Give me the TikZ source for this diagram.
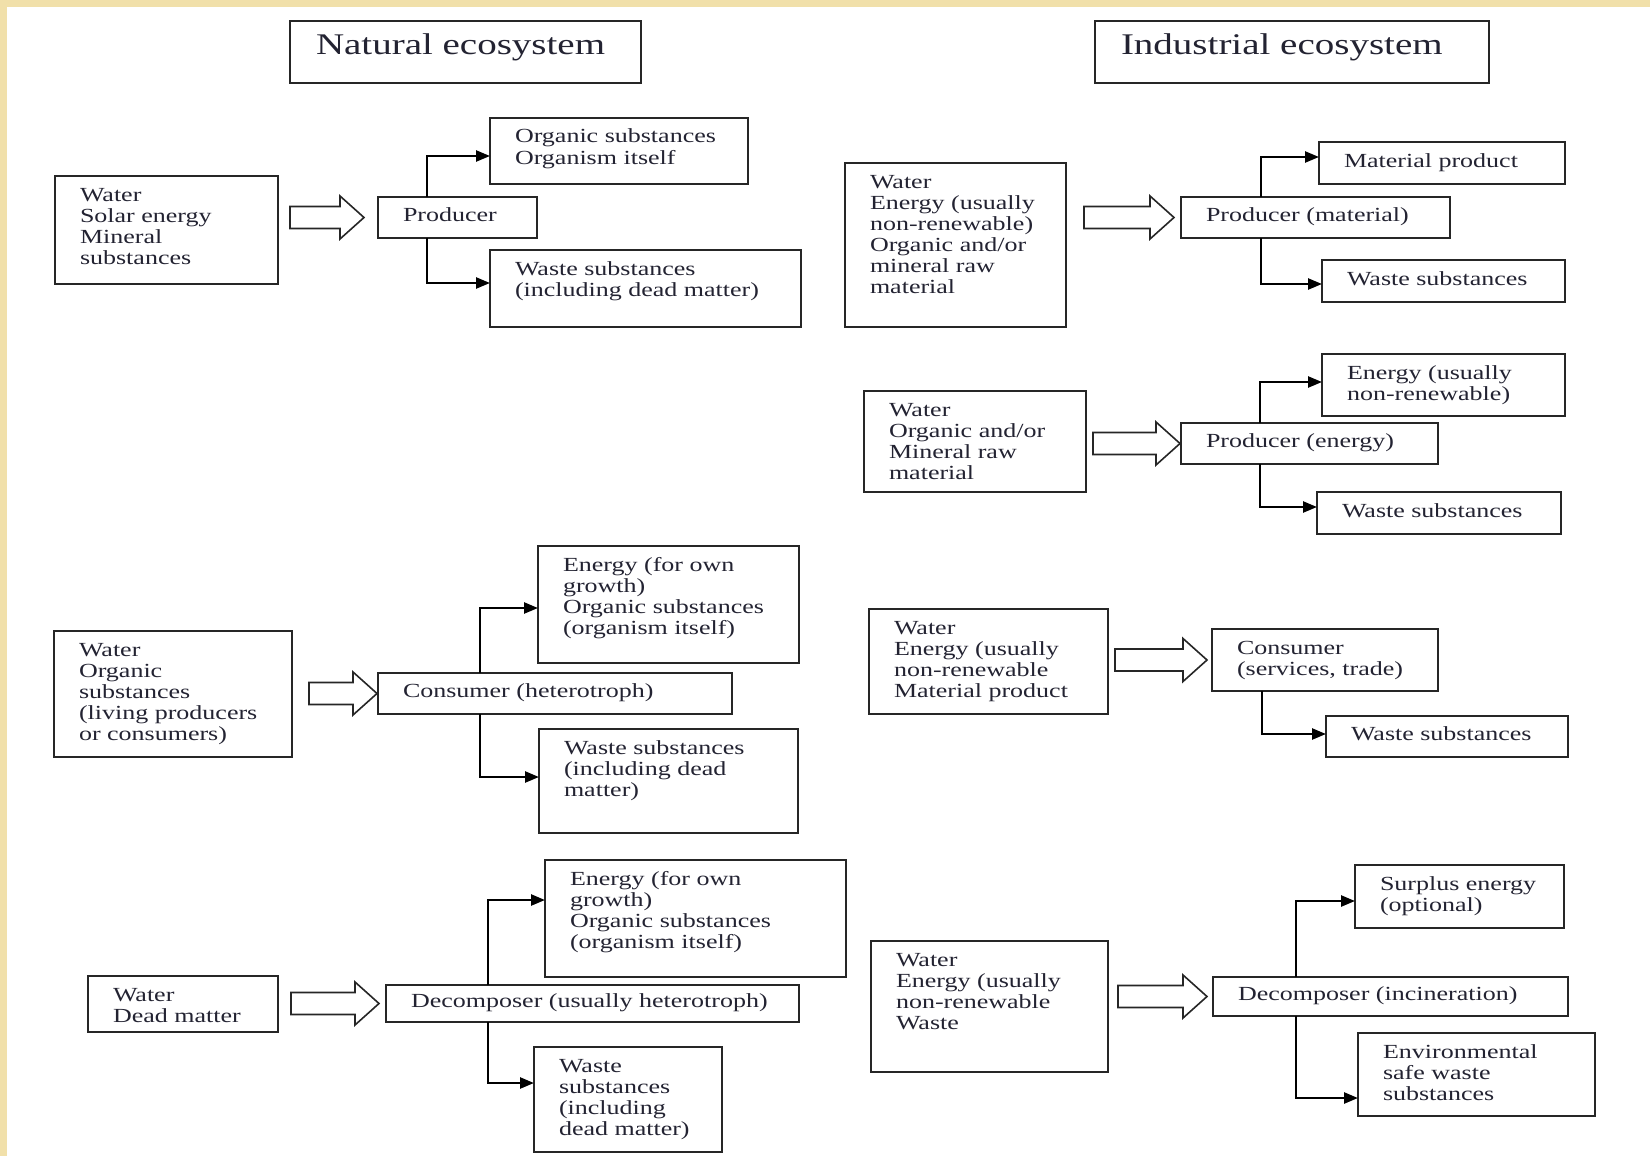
\documentclass[tikz,border=0pt]{standalone}
\usepackage{fontspec}
\setmainfont{Liberation Serif}[FakeStretch=1.3]
\usetikzlibrary{arrows.meta,calc}
\definecolor{txt}{RGB}{35,35,50}
\definecolor{edgecol}{RGB}{241,224,170}
\newcommand\tbt[3]{\begin{minipage}[c][#2pt][t]{#1pt}\vspace*{10.3pt}\raggedright\setlength{\leftskip}{25pt}\strut#3\strut\end{minipage}}
\newcommand\tbc[3]{\begin{minipage}[c][#2pt][c]{#1pt}\raggedright\setlength{\leftskip}{25pt}\strut#3\strut\end{minipage}}
\newcommand\tbttl[3]{\begin{minipage}[c][#2pt][t]{#1pt}\vspace*{11.6pt}\raggedright\setlength{\leftskip}{26pt}\strut#3\strut\end{minipage}}
\newcommand\barr[4]{%
 \draw[blk] let \p1=(#1.east), \p2=(#2.west) in
   (\x1+#3pt,\y2+11pt) -- (\x2-#4pt-24pt,\y2+11pt) -- (\x2-#4pt-24pt,\y2+21.5pt)
   -- (\x2-#4pt,\y2) -- (\x2-#4pt-24pt,\y2-21.5pt) -- (\x2-#4pt-24pt,\y2-11pt)
   -- (\x1+#3pt,\y2-11pt) -- cycle;}
\begin{document}
\begin{tikzpicture}[x=1pt,y=-1pt,
  bx/.style={draw=black!85, line width=1.8pt, inner sep=0pt, outer sep=0pt, anchor=north west, text=txt, font=\fontsize{20}{21}\selectfont},
  ttl/.style={bx, font=\fontsize{30}{32}\selectfont},
  conn/.style={draw=black, line width=2.5pt, -{Triangle[length=14pt,width=11pt]}},
  blk/.style={draw=black!85, line width=1.6pt, fill=white, line join=miter}]
\fill[white] (0,0) rectangle (1650,1156);
\fill[edgecol] (0,0) rectangle (1650,7);
\fill[edgecol] (0,0) rectangle (7,1156);
\useasboundingbox (0,0) rectangle (1650,1156);

% titles
\node[ttl] (tN) at (290,21) {\tbttl{351}{62}{Natural ecosystem}};
\node[ttl] (tI) at (1095,21) {\tbttl{394}{62}{Industrial ecosystem}};

% natural: producer
\node[bx] (inN1) at (55,176) {\tbt{223}{108}{Water\\Solar energy\\Mineral\\substances}};
\node[bx] (prodN) at (378,197) {\tbc{159}{41}{Producer}};
\node[bx] (orgN) at (490,118) {\tbt{258}{66}{Organic substances\\Organism itself}};
\node[bx] (wasteN) at (490,250) {\tbt{311}{77}{Waste substances\\(including dead matter)}};

% natural: consumer
\node[bx] (inC) at (54,631) {\tbt{238}{126}{Water\\Organic\\substances\\(living producers\\or consumers)}};
\node[bx] (consN) at (378,673) {\tbc{354}{41}{Consumer (heterotroph)}};
\node[bx] (enC) at (538,546) {\tbt{261}{117}{Energy (for own\\growth)\\Organic substances\\(organism itself)}};
\node[bx] (wasteC) at (539,729) {\tbt{259}{104}{Waste substances\\(including dead\\matter)}};

% natural: decomposer
\node[bx] (inD) at (88,976) {\tbt{190}{56}{Water\\Dead matter}};
\node[bx] (decN) at (386,985) {\tbc{413}{37}{Decomposer (usually heterotroph)}};
\node[bx] (enD) at (545,860) {\tbt{301}{117}{Energy (for own\\growth)\\Organic substances\\(organism itself)}};
\node[bx] (wasteD) at (534,1047) {\tbt{188}{105}{Waste\\substances\\(including\\dead matter)}};

% industrial: producer (material)
\node[bx] (inIA) at (845,163) {\tbt{221}{164}{Water\\Energy (usually\\non-renewable)\\Organic and/or\\mineral raw\\material}};
\node[bx] (prodM) at (1181,197) {\tbc{269}{41}{Producer (material)}};
\node[bx] (matP) at (1319,142) {\tbc{246}{42}{Material product}};
\node[bx] (wasteI1) at (1322,260) {\tbc{243}{42}{Waste substances}};

% industrial: producer (energy)
\node[bx] (inIB) at (864,391) {\tbt{222}{101}{Water\\Organic and/or\\Mineral raw\\material}};
\node[bx] (prodE) at (1181,423) {\tbc{257}{41}{Producer (energy)}};
\node[bx] (enI) at (1322,354) {\tbt{243}{62}{Energy (usually\\non-renewable)}};
\node[bx] (wasteI2) at (1317,492) {\tbc{244}{42}{Waste substances}};

% industrial: consumer
\node[bx] (inIC) at (869,609) {\tbt{239}{105}{Water\\Energy (usually\\non-renewable\\Material product}};
\node[bx] (consI) at (1212,629) {\tbt{226}{62}{Consumer\\(services, trade)}};
\node[bx] (wasteI3) at (1326,716) {\tbc{242}{41}{Waste substances}};

% industrial: decomposer
\node[bx] (inID) at (871,941) {\tbt{237}{131}{Water\\Energy (usually\\non-renewable\\Waste}};
\node[bx] (decI) at (1213,977) {\tbc{355}{39}{Decomposer (incineration)}};
\node[bx] (surp) at (1355,865) {\tbt{209}{63}{Surplus energy\\(optional)}};
\node[bx] (env) at (1358,1033) {\tbt{237}{83}{Environmental\\safe waste\\substances}};

% block arrows
\barr{inN1}{prodN}{12}{14}
\barr{inIA}{prodM}{18}{7}
\barr{inIB}{prodE}{7}{1}
\barr{inC}{consN}{17}{1}
\barr{inIC}{consI}{7}{5}
\barr{inD}{decN}{13}{7}
\barr{inID}{decI}{10}{6}

% connectors
\draw[conn] ([xshift=49pt]prodN.north west) |- ([yshift=-5pt]orgN.west);
\draw[conn] ([xshift=49pt]prodN.south west) |- ([yshift=5.5pt]wasteN.west);
\draw[conn] ([xshift=80pt]prodM.north west) |- ([yshift=6pt]matP.west);
\draw[conn] ([xshift=80pt]prodM.south west) |- ([yshift=-3pt]wasteI1.west);
\draw[conn] ([xshift=79pt]prodE.north west) |- ([yshift=3pt]enI.west);
\draw[conn] ([xshift=79pt]prodE.south west) |- ([yshift=6pt]wasteI2.west);
\draw[conn] ([xshift=102pt]consN.north west) |- ([yshift=-3.5pt]enC.west);
\draw[conn] ([xshift=102pt]consN.south west) |- ([yshift=4pt]wasteC.west);
\draw[conn] ([xshift=50pt]consI.south west) |- ([yshift=2.5pt]wasteI3.west);
\draw[conn] ([xshift=102pt]decN.north west) |- ([yshift=18.5pt]enD.west);
\draw[conn] ([xshift=102pt]decN.south west) |- ([yshift=16.5pt]wasteD.west);
\draw[conn] ([xshift=83pt]decI.north west) |- ([yshift=-4.5pt]surp.west);
\draw[conn] ([xshift=83pt]decI.south west) |- ([yshift=-23.5pt]env.west);
\end{tikzpicture}
\end{document}
